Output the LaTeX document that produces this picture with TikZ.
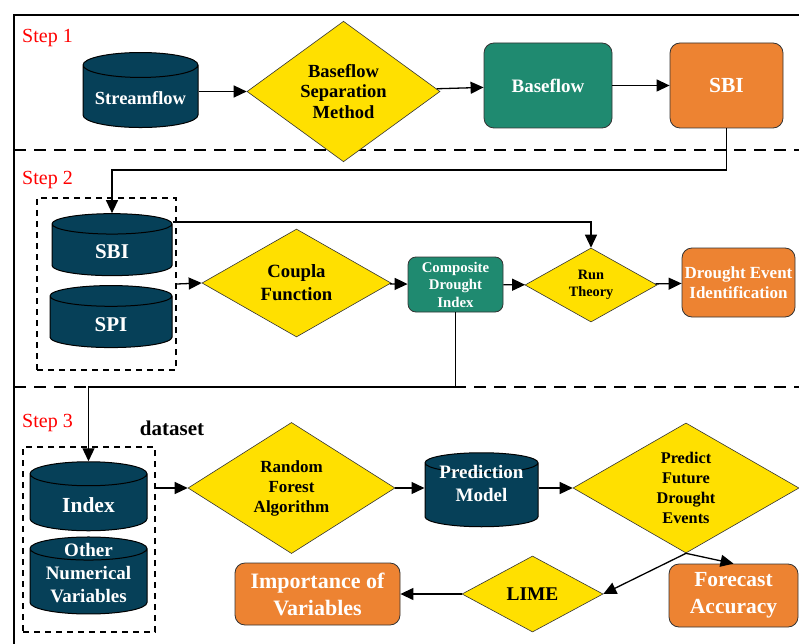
\documentclass[tikz,border=0pt]{standalone}
\usepackage{fontspec}
\setmainfont{Liberation Serif}
\usetikzlibrary{shapes.geometric,arrows.meta,positioning}

\definecolor{dbblue}{RGB}{6,64,88}
\definecolor{procgreen}{RGB}{31,138,112}
\definecolor{outorange}{RGB}{237,131,50}
\definecolor{decyellow}{RGB}{255,224,0}

\newcommand{\fs}[2]{\fontsize{#1}{#2}\selectfont}

\tikzset{
 dbcyl/.style 2 args={cylinder, shape border rotate=90, aspect=0.21, draw=black, line width=1pt,
   fill=dbblue, inner sep=0pt, text width=#1, minimum width=#1, minimum height=#2},
 dbtext/.style={text=white, align=center, inner sep=0pt},
 decision/.style={diamond, draw=black!80, line width=.6pt, fill=decyellow,
   font=\bfseries, align=center, inner sep=0pt},
 procbox/.style={rectangle, rounded corners=10pt, draw=black!80, line width=.8pt,
   fill=procgreen, text=white, font=\bfseries, align=center, inner sep=0pt},
 outbox/.style={procbox, fill=outorange},
 flow/.style={-{Triangle[length=13pt,width=12pt]}, line width=1.3pt},
 steplabel/.style={text=red, anchor=west, inner sep=0pt, font=\fs{20}{22}},
 grpbox/.style={draw, dash pattern=on 6pt off 5pt, line width=1.5pt, inner sep=0pt},
 sepline/.style={dash pattern=on 12pt off 8pt, line width=2pt},
}

\begin{document}
\begin{tikzpicture}[x=1pt,y=-1pt]
\useasboundingbox (0,0) rectangle (799,644);
% frame and separators
\draw[line width=2pt] (799,15) -- (14,15) -- (14,644);
\draw[sepline] (14,150) -- (799,150);
\draw[sepline] (14,387) -- (799,387);
\node[steplabel] (s1) at (22,38) {Step 1};
\node[steplabel] (s2) at (22,180) {Step 2};
\node[steplabel] (s3) at (22,423) {Step 3};

% step 1
\node[dbcyl={115pt}{75pt}, aspect=0.217,
  label={[dbtext, name=streamT, yshift=-1.5pt, font=\bfseries\fs{18.5}{20}]center:Streamflow}] (stream) at (140.5,96.5) {};
\node[decision, minimum width=193pt, minimum height=97pt, font=\bfseries\fs{18.5}{20.5}] (bsm) at (343.5,91.5) {Baseflow\\Separation\\Method};
\node[procbox, minimum width=128pt, minimum height=85pt, font=\bfseries\fs{19}{22}] (baseflow) at (548,85.5) {Baseflow};
\node[outbox, minimum width=113pt, minimum height=85pt, font=\bfseries\fs{21.5}{24}] (sbiA) at (726.5,85.5) {SBI};
\draw[flow] (stream.east |- bsm.west) -- (bsm);
\draw[flow] (bsm) -- (baseflow);
\draw[flow] (baseflow) -- (sbiA);

% step 2
\node[grpbox, minimum width=139pt, minimum height=172pt] (grpA) at (106.5,284) {};
\node[dbcyl={120pt}{62pt}, aspect=0.17,
  label={[dbtext, name=sbiT, yshift=-2pt, font=\bfseries\fs{21}{23}]center:SBI}] (sbiB) at (112,250) {};
\node[dbcyl={122pt}{62pt}, aspect=0.17,
  label={[dbtext, name=spiT, yshift=-3pt, font=\bfseries\fs{21}{23}]center:SPI}] (spi) at (111,322) {};
\node[decision, minimum width=189pt, minimum height=86pt, font=\bfseries\fs{18.7}{23}] (coupla) at (296.5,283) {Coupla\\Function};
\node[procbox, rounded corners=8pt, minimum width=95pt, minimum height=55pt, font=\bfseries\fs{14.8}{17.5}] (cdi) at (455.5,284.5) {Composite\\Drought\\Index};
\node[decision, minimum width=132pt, minimum height=74pt, font=\bfseries\fs{14.3}{17}] (run) at (591,285) {Run\\Theory};
\node[outbox, minimum width=113pt, minimum height=69pt, font=\bfseries\fs{17}{20}] (dei) at (738.5,282.5) {Drought Event\\Identification};
\draw[flow] (sbiA.south) -- (sbiA.south |- 0,170) -| (sbiB.north);
\draw[flow] (sbiB.east |- 0,222) -| (run.north);
\draw[flow] (grpA.east) -- (coupla.west);
\draw[flow] (coupla) -- (cdi);
\draw[flow] (cdi) -- (run);
\draw[flow] (run) -- (dei);

% step 3
\node[font=\bfseries\fs{21}{24}] (dataset) at (172,428) {dataset};
\node[grpbox, minimum width=132pt, minimum height=185pt] (grpB) at (89,539.5) {};
\node[dbcyl={117pt}{69pt}, aspect=0.205,
  label={[dbtext, name=indexT, yshift=-2.5pt, font=\bfseries\fs{21.5}{23}]center:Index}] (index) at (88.5,502.5) {};
\node[dbcyl={117pt}{77pt}, aspect=0.197,
  label={[dbtext, name=onvT, yshift=8.5pt, font=\bfseries\fs{19}{23}]center:Other\\Numerical\\Variables}] (onv) at (88.5,581.5) {};
\node[decision, minimum width=207pt, minimum height=114pt, font=\bfseries\fs{17}{20}] (rf) at (291.5,488) {Random\\Forest\\Algorithm};
\node[dbcyl={113pt}{74pt}, aspect=0.177,
  label={[dbtext, name=pmT, yshift=11.5pt, font=\bfseries\fs{19}{23}]center:Prediction\\Model}] (pm) at (481.5,495) {};
\node[decision, minimum width=226pt, minimum height=108pt, font=\bfseries\fs{16.3}{20}] (pfde) at (686,488) {Predict\\Future\\Drought\\Events};
\node[decision, minimum width=141pt, minimum height=76pt, font=\bfseries\fs{19.4}{22}] (lime) at (532.5,594) {LIME};
\node[outbox, minimum width=165pt, minimum height=62pt, font=\bfseries\fs{22}{27}] (imp) at (317.5,594) {Importance of\\Variables};
\node[outbox, minimum width=129pt, minimum height=63pt, font=\bfseries\fs{21.5}{27}] (fa) at (733.5,595.5) {Forecast\\Accuracy};
\draw[flow] (cdi.south) -- (cdi.south |- 0,387) -| (index.north);
\draw[flow] (grpB.east |- rf.west) -- (rf.west);
\draw[flow] (rf.east) -- (pm.west |- rf.east);
\draw[flow] (pm.east |- pfde.west) -- (pfde.west);
\draw[flow] (pfde.south) -- (lime.east);
\draw[flow] (pfde.south) -- (fa.north);
\draw[flow] (lime) -- (imp);
\end{tikzpicture}
\end{document}
